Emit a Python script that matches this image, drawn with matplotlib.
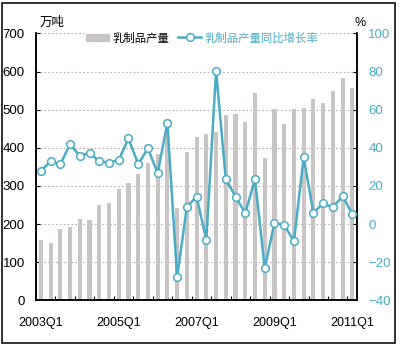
import matplotlib.pyplot as plt
from matplotlib.patches import Rectangle
from matplotlib.lines import Line2D
import numpy as np

# quarters 2003Q1 .. 2011Q1
quarters = [f"{y}Q{q}" for y in range(2003, 2012) for q in range(1, 5)][:33]
tick_labels = ["2003Q1", "2005Q1", "2007Q1", "2009Q1", "2011Q1"]

# 乳制品产量 (万吨)
output = [158, 150, 188, 192, 214, 212, 251, 255, 293, 309, 332, 359, 385, 440,
          243, 390, 428, 437, 441, 485, 489, 467, 544, 374, 501, 463, 501, 505,
          529, 518, 549, 583, 556]
# 同比增长率 (%)
growth = [28.0, 32.9, 31.3, 42.0, 35.7, 37.4, 32.9, 32.2, 33.6, 44.9, 31.5, 39.7,
          26.6, 53.1, -27.9, 9.1, 14.4, -8.3, 80.4, 23.5, 14.4, 5.7, 23.5, -23.2,
          0.7, -0.5, -8.9, 35.0, 6.0, 10.9, 8.8, 14.7, 5.3]

bar_color = '#c9c5c5'
line_color = '#4bacc6'
num_font = ['Liberation Sans Narrow', 'Liberation Sans', 'DejaVu Sans']
cjk_font = ['Noto Sans CJK SC', 'DejaVu Sans']

fig = plt.figure(figsize=(4.0, 3.51), dpi=100)
ax = fig.add_axes([0.09, 0.1439, 0.803, 0.7611])
ax2 = ax.twinx()

x = np.arange(len(quarters))
ax.bar(x, output, width=0.42, color=bar_color, zorder=2)
ax2.plot(x, growth, color=line_color, lw=1.8, marker='o', ms=5.5,
         mfc='white', mec=line_color, mew=1.1, zorder=3)

ax.set_xlim(-0.5, len(quarters) - 0.5)
ax.set_ylim(0, 700)
ax2.set_ylim(-40, 100)

ax.set_yticks(np.arange(0, 701, 100))
ax2.set_yticks(np.arange(-40, 101, 20))
ax.set_xticks([quarters.index(t) for t in tick_labels])
ax.set_xticklabels(tick_labels)
ax.set_xticks(np.arange(1.5, len(quarters) - 1, 2), minor=True)

ax.grid(axis='y', color='#b8adad', linestyle=(0, (1.5, 2)), lw=0.8, zorder=0)
ax.set_axisbelow(True)

for a in (ax, ax2):
    a.spines['top'].set_visible(False)
    for s in ('left', 'right', 'bottom'):
        a.spines[s].set_linewidth(1.1)

ax.tick_params(axis='x', which='major', length=0, pad=12, labelsize=9)
ax.tick_params(axis='x', which='minor', direction='in', length=3, width=0.8)
ax.tick_params(axis='y', direction='in', length=3, width=0.8, pad=8, labelsize=9.5)
ax2.tick_params(axis='y', direction='in', length=3, width=0.8, pad=8,
                labelsize=9.5, labelcolor=line_color)
for lab in ax.get_xticklabels() + ax.get_yticklabels() + ax2.get_yticklabels():
    lab.set_family(num_font)

fig.text(0.1, 0.935, '万吨', family=cjk_font, fontsize=9, ha='left', va='center')
fig.text(0.9, 0.935, '%', family=num_font, fontsize=9, ha='center', va='center')

handles = [Rectangle((0, 0), 1, 1, color=bar_color),
           Line2D([], [], color=line_color, lw=1.8, marker='o', ms=5.5,
                  mfc='white', mec=line_color, mew=1.1)]
leg = ax2.legend(handles, ['乳制品产量', '乳制品产量同比增长率'], ncol=2,
                 loc='center left', bbox_to_anchor=(0.212, 0.893),
                 bbox_transform=fig.transFigure, frameon=True, fancybox=False,
                 edgecolor='none', facecolor='white', framealpha=1,
                 prop={'family': cjk_font, 'size': 8.2}, handlelength=2.0,
                 handleheight=0.6, handletextpad=0.3, columnspacing=0.8,
                 borderpad=0.1, borderaxespad=0)
leg.get_texts()[1].set_color(line_color)

fig.patches.append(Rectangle((0.006, 0.023), 0.982, 0.969, transform=fig.transFigure,
                             fill=False, edgecolor='#222222', lw=1.3))

fig.savefig('out.png', dpi=100)
